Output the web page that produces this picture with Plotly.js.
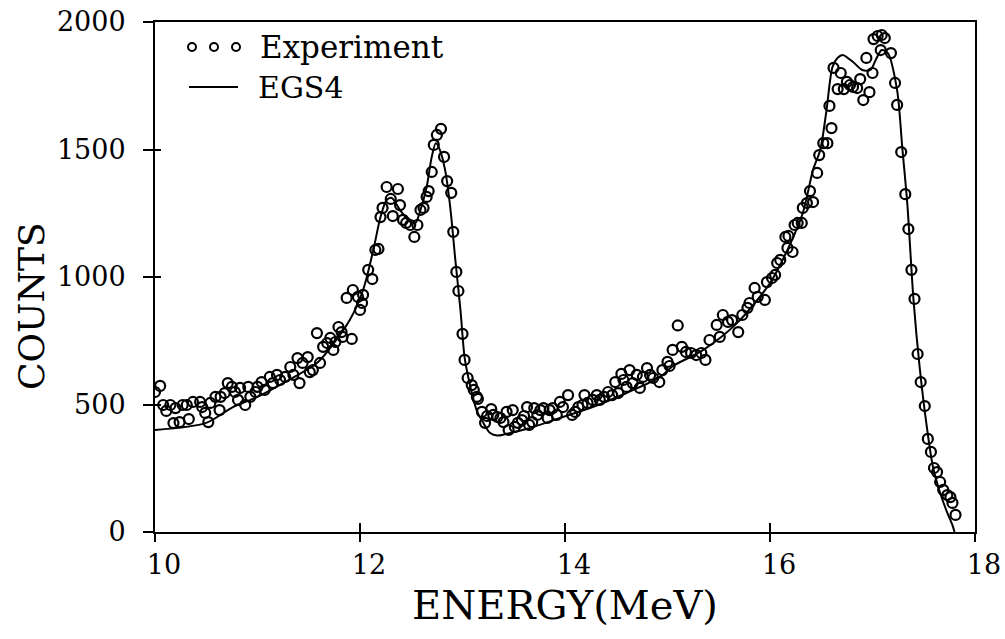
<!DOCTYPE html>
<html>
<head>
<meta charset="utf-8">
<script src="https://cdn.plot.ly/plotly-3.0.1.min.js"></script>
<style>html,body{margin:0;padding:0;background:#fff;}#chart{width:1005px;height:639px;}</style>
</head>
<body>
<div id="chart"></div>
<script>
// Experimental data (energy MeV, counts)
var expEnergy = [10.00,10.05,10.08,10.11,10.15,10.18,10.20,10.24,10.27,10.31,10.33,10.37,10.44,10.46,10.49,10.52,10.54,10.59,10.63,10.64,10.68,10.71,10.75,10.78,10.81,10.83,10.88,10.91,10.93,10.98,11.00,11.04,11.07,11.12,11.15,11.19,11.22,11.27,11.32,11.35,11.39,11.41,11.44,11.49,11.51,11.54,11.58,11.61,11.64,11.68,11.71,11.74,11.76,11.79,11.82,11.83,11.87,11.92,11.93,11.98,12.00,12.02,12.03,12.08,12.12,12.15,12.18,12.20,12.22,12.26,12.30,12.32,12.37,12.39,12.42,12.45,12.49,12.53,12.56,12.59,12.62,12.65,12.67,12.70,12.72,12.75,12.79,12.82,12.85,12.89,12.91,12.94,12.96,13.00,13.02,13.05,13.09,13.11,13.14,13.15,13.19,13.22,13.24,13.28,13.30,13.34,13.37,13.40,13.43,13.45,13.49,13.51,13.54,13.58,13.60,13.63,13.65,13.68,13.70,13.73,13.76,13.79,13.83,13.85,13.88,13.92,13.95,13.98,14.03,14.07,14.10,14.13,14.17,14.19,14.22,14.27,14.31,14.34,14.38,14.42,14.46,14.49,14.52,14.55,14.57,14.60,14.63,14.66,14.70,14.73,14.76,14.80,14.83,14.86,14.92,14.95,15.00,15.02,15.05,15.10,15.14,15.18,15.23,15.28,15.33,15.37,15.41,15.48,15.51,15.54,15.59,15.63,15.69,15.73,15.78,15.80,15.85,15.88,15.95,15.97,16.02,16.05,16.07,16.10,16.15,16.17,16.18,16.22,16.24,16.27,16.31,16.32,16.36,16.39,16.42,16.46,16.48,16.52,16.56,16.58,16.60,16.62,16.66,16.69,16.72,16.75,16.78,16.81,16.85,16.88,16.91,16.94,16.97,17.00,17.01,17.05,17.08,17.09,17.12,17.18,17.22,17.24,17.28,17.32,17.35,17.38,17.41,17.44,17.47,17.51,17.54,17.57,17.60,17.63,17.66,17.69,17.73,17.76,17.78,17.81];
var expCounts = [549,573,498,475,498,427,486,431,498,498,443,510,510,490,467,431,506,530,478,530,545,584,569,549,518,565,498,569,530,549,569,588,557,608,584,616,596,608,647,616,682,584,663,686,627,635,780,663,726,741,761,714,745,804,784,765,918,757,949,922,871,898,930,1028,992,1106,1110,1235,1271,1353,1306,1239,1345,1282,1224,1212,1204,1157,1204,1263,1271,1314,1337,1412,1518,1557,1581,1471,1376,1330,1177,1020,945,777,675,604,576,557,530,522,471,428,455,482,459,451,447,431,471,400,478,412,428,439,455,490,420,431,486,459,478,486,447,478,486,459,510,490,537,459,471,490,498,537,506,518,537,518,530,549,537,588,545,620,596,569,635,584,616,565,608,643,616,604,588,635,667,651,714,810,726,706,702,694,702,675,753,812,765,851,824,831,784,851,879,898,957,922,910,980,996,1008,1055,1067,1157,1114,1161,1098,1204,1212,1212,1271,1290,1337,1294,1408,1478,1525,1525,1671,1584,1820,1737,1800,1737,1765,1753,1745,1741,1776,1694,1859,1725,1800,1933,1945,1890,1949,1937,1878,1761,1675,1490,1325,1188,1028,914,698,588,494,365,314,251,235,196,165,145,137,114,67];

// EGS4 simulation curve
var egsEnergy = [10.00,10.50,10.76,11.00,11.25,11.58,11.71,11.90,12.03,12.13,12.20,12.26,12.31,12.39,12.49,12.54,12.59,12.65,12.70,12.74,12.78,12.83,12.88,12.93,12.98,13.02,13.06,13.10,13.14,13.20,13.27,13.34,13.43,13.63,13.95,14.27,14.60,14.93,15.05,15.35,15.68,16.00,16.17,16.32,16.42,16.49,16.55,16.61,16.66,16.71,16.81,16.90,16.98,17.04,17.09,17.15,17.24,17.29,17.34,17.40,17.46,17.53,17.59,17.66,17.73,17.78,17.80];
var egsCounts = [400,428,490,530,584,663,722,831,949,1106,1235,1302,1310,1263,1216,1212,1263,1353,1471,1525,1498,1420,1275,1067,871,686,600,530,475,430,388,378,385,405,447,490,545,608,650,714,820,976,1106,1251,1420,1498,1650,1824,1860,1871,1843,1812,1812,1859,1890,1878,1733,1510,1285,910,647,412,255,153,75,27,0];

var xTicks = [10,12,14,16,18];
var yTicks = [0,500,1000,1500,2000];
var legendLabels = ['Experiment','EGS4'];
var axisTitles = ['ENERGY(MeV)','COUNTS'];

var serif = 'DejaVu Serif, serif';

var traces = [
  {x: egsEnergy, y: egsCounts, type: 'scatter', mode: 'lines', name: legendLabels[1],
   line: {color: '#000', width: 2, shape: 'spline', smoothing: 0.8}, hoverinfo: 'skip'},
  {x: expEnergy, y: expCounts, type: 'scatter', mode: 'markers', name: legendLabels[0],
   marker: {symbol: 'circle-open', size: 10, color: '#000', line: {color: '#000', width: 2.2}}},
  // invisible helper so the crossing-tick overlay axes are drawn
  {x: expEnergy, y: expCounts, xaxis: 'x2', yaxis: 'y2', type: 'scatter', mode: 'markers',
   marker: {opacity: 0}, hoverinfo: 'skip', showlegend: false}
];

// paper coords for legend
function px2x(px){ return (px-155)/820; }
function py2y(py){ return (532-py)/510; }

var shapes = [];
[192,214,236].forEach(function(cx){
  shapes.push({type:'circle', xref:'paper', yref:'paper', xsizemode:'pixel', ysizemode:'pixel',
    xanchor: px2x(cx), yanchor: py2y(47), x0:-4, x1:4, y0:-4, y1:4,
    line:{color:'#000', width:2}});
});
shapes.push({type:'line', xref:'paper', yref:'paper', x0:px2x(189), x1:px2x(238), y0:py2y(87), y1:py2y(87),
  line:{color:'#000', width:2}});

var annotations = [
  {xref:'paper', yref:'paper', x:px2x(258), y:py2y(47), xanchor:'left', yanchor:'middle', showarrow:false,
   text: legendLabels[0], font:{family:serif, size:31, color:'#000'}},
  {xref:'paper', yref:'paper', x:px2x(256), y:py2y(87), xanchor:'left', yanchor:'middle', showarrow:false,
   text: legendLabels[1], font:{family:serif, size:30, color:'#000'}},
  {xref:'paper', yref:'paper', x:px2x(31), y:py2y(306), xanchor:'center', yanchor:'middle', showarrow:false,
   textangle:-90, text: axisTitles[1], font:{family:serif, size:36, color:'#000'}}
];

var layout = {
  width: 1005, height: 639,
  margin: {l:155, r:30, t:22, b:107},
  paper_bgcolor: '#fff', plot_bgcolor: '#fff',
  showlegend: false,
  font: {family: serif, color: '#000'},
  xaxis: {
    range: [10, 18], tickvals: xTicks, ticktext: xTicks.map(String),
    showgrid: false, zeroline: false, showline: true, mirror: true, linecolor: '#000', linewidth: 2,
    ticks: 'outside', ticklen: 8, tickwidth: 2, tickcolor: '#000', ticklabelshift: 9,
    tickfont: {family: serif, size: 27, color: '#000'},
    title: {text: axisTitles[0], font: {family: serif, size: 40, color: '#000'}, standoff: 12}
  },
  yaxis: {
    range: [0, 2000], tickvals: yTicks, ticktext: yTicks.map(String),
    showgrid: false, zeroline: false, showline: true, mirror: true, linecolor: '#000', linewidth: 2,
    ticks: 'outside', ticklen: 10, tickwidth: 2, tickcolor: '#000', ticklabelstandoff: 12,
    tickfont: {family: serif, size: 27, color: '#000'}
  },
  xaxis2: {overlaying: 'x', anchor: 'y2', side: 'bottom', range: [10, 18], tickvals: xTicks,
    showticklabels: false, showgrid: false, zeroline: false, showline: false,
    ticks: 'inside', ticklen: 9, tickwidth: 2, tickcolor: '#000'},
  yaxis2: {overlaying: 'y', anchor: 'x2', side: 'left', range: [0, 2000], tickvals: yTicks,
    showticklabels: false, showgrid: false, zeroline: false, showline: false,
    ticks: 'inside', ticklen: 6, tickwidth: 2, tickcolor: '#000'},
  shapes: shapes,
  annotations: annotations
};

Plotly.newPlot('chart', traces, layout, {displayModeBar: false, staticPlot: true});
</script>
</body>
</html>
